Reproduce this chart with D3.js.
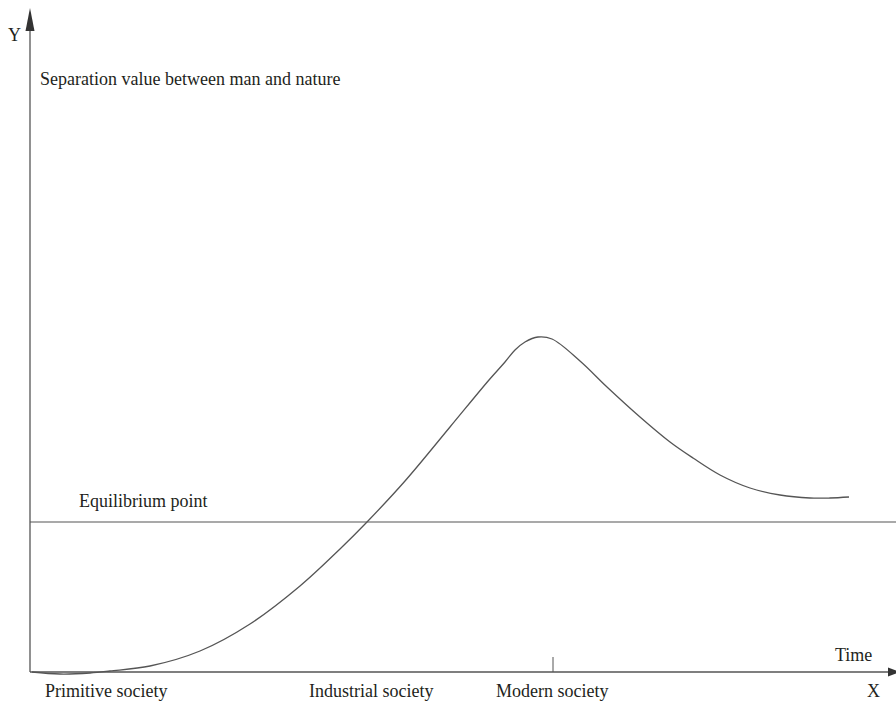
<!DOCTYPE html>
<html><head><meta charset="utf-8">
<script src="https://cdn.jsdelivr.net/npm/d3@7"></script>
<style>body{margin:0;background:#fff}svg{display:block}text{font-family:"Liberation Serif","DejaVu Serif",serif;fill:#231f20}</style>
</head><body>
<script>
const curveX = [2,30,60,80,120,170,220,270,310,337,375,420,459,475,485,495,508,522,550,577,610,640,663,690,720,750,780,800,819];
const curveY = [0,-2,-1,1,6,21,48,86,123,150,191,245,292,310,322,330,335,333,311,285,255,230,214,197,184,177,174,174,175];
const equilibrium = 150;
const stageLabels = ["Primitive society","Industrial society","Modern society"];
const stageX = [15,279,466];
const modernTick = 523;

const W=896,H=703;
const svg=d3.select("body").append("svg").attr("width",W).attr("height",H);
const x=d3.scaleLinear().domain([0,866]).range([30,896]);
const y=d3.scaleLinear().domain([0,664]).range([672,8]);
const stroke="#555";

// axes
svg.append("line").attr("x1",x(0)).attr("x2",x(0)).attr("y1",y(0)).attr("y2",y(648)).attr("stroke",stroke).attr("stroke-width",1.3);
svg.append("path").attr("d",`M${x(0)},${y(664)} L${x(0)-4.5},${y(641)} L${x(0)+4.5},${y(641)} Z`).attr("fill","#333");
svg.append("line").attr("x1",x(0)).attr("x2",x(860)).attr("y1",y(0)).attr("y2",y(0)).attr("stroke",stroke).attr("stroke-width",1.3);
svg.append("path").attr("d",`M${x(870)},${y(0)} L${x(858)},${y(0)-4.5} L${x(858)},${y(0)+4.5} Z`).attr("fill","#333");

// equilibrium line
svg.append("line").attr("x1",x(0)).attr("x2",x(866)).attr("y1",y(equilibrium)).attr("y2",y(equilibrium)).attr("stroke",stroke).attr("stroke-width",1.2);

// tick
svg.append("line").attr("x1",x(modernTick)).attr("x2",x(modernTick)).attr("y1",y(0)).attr("y2",y(15)).attr("stroke",stroke).attr("stroke-width",1);

// curve
const pts=curveX.map((d,i)=>[d,curveY[i]]);
svg.append("path").datum(pts).attr("d",d3.line().x(d=>x(d[0])).y(d=>y(d[1])).curve(d3.curveCatmullRom.alpha(0.5)))
  .attr("fill","none").attr("stroke",stroke).attr("stroke-width",1.3);

// labels
const fs=18;
svg.append("text").attr("x",8).attr("y",41).attr("font-size",fs).text("Y");
svg.append("text").attr("x",40).attr("y",85).attr("font-size",fs).text("Separation value between man and nature");
svg.append("text").attr("x",79).attr("y",507).attr("font-size",fs).text("Equilibrium point");
svg.append("text").attr("x",835).attr("y",661).attr("font-size",fs).text("Time");
svg.append("text").attr("x",867).attr("y",697).attr("font-size",fs).text("X");
stageLabels.forEach((t,i)=>svg.append("text").attr("x",x(stageX[i])).attr("y",697).attr("font-size",fs).text(t));
</script>
</body></html>
